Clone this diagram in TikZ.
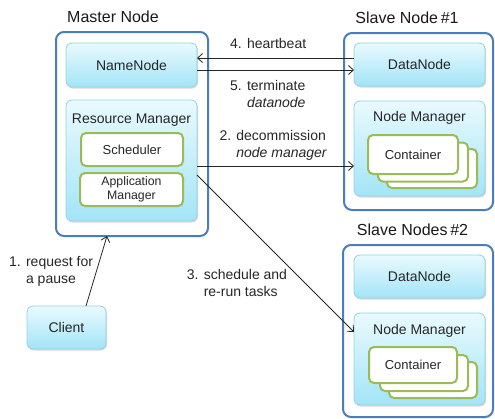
\documentclass[tikz,border=0pt]{standalone}
\usepackage{fontspec}
\setmainfont{Liberation Sans}
\usetikzlibrary{shadows,arrows.meta}
\definecolor{hostblue}{HTML}{4A7EBB}
\definecolor{cyanedge}{HTML}{93D3E6}
\definecolor{cyantop}{HTML}{E9FAFE}
\definecolor{cyanbot}{HTML}{A3E4F7}
\definecolor{leafgreen}{HTML}{9BBB59}
\definecolor{ink}{HTML}{262626}
\begin{document}
\begin{tikzpicture}[x=1pt,y=-1pt,
  host/.style={draw=hostblue, line width=2pt, rounded corners=8pt, fill=white,
    inner sep=0pt, outer sep=0pt},
  comp/.style={draw=cyanedge, line width=0.8pt, rounded corners=6pt,
    top color=cyantop, bottom color=cyanbot,
    drop shadow={shadow xshift=1pt, shadow yshift=-1.5pt, opacity=0.3},
    inner sep=0pt, outer sep=0pt, text=ink, font=\fontsize{14}{16.6}\selectfont},
  sub/.style={draw=leafgreen, line width=2pt, rounded corners=5pt, fill=white,
    inner sep=0pt, outer sep=0pt, text=ink, align=center},
  title/.style={anchor=base, inner sep=0pt, text=black!90,
    font=\fontsize{16}{19}\selectfont},
  caption/.style={anchor=base, inner sep=0pt, text=ink,
    font=\fontsize{14}{16.6}\selectfont},
  % multi-line notes: the base anchor sits on the last line
  note/.style={anchor=base west, align=left, inner sep=0pt, text=ink,
    font=\fontsize{14}{16.6}\selectfont},
  msg/.style={draw=black!85, line width=0.8pt,
    -{Straight Barb[length=5pt,width=9pt]}},
]
\useasboundingbox (0,0) rectangle (495,418);

% ---------- master node ----------
\node[title] (tmaster) at (113,22.5) {Master Node};
\node[host, minimum width=152pt, minimum height=204pt] (master) at (132,134) {};
\node[comp, minimum width=131pt, minimum height=44pt] (nn) at (131.5,65) {NameNode};
\node[comp, minimum width=131pt, minimum height=121pt] (rm) at (131.5,160.5) {};
\node[caption] (trm) at (131.5,123.3) {Resource Manager};
\node[sub, minimum width=102pt, minimum height=33pt, font=\fontsize{13}{15}\selectfont]
  (sched) at (132,149.5) {Scheduler};
\node[sub, minimum width=103pt, minimum height=33pt, font=\fontsize{12.3}{14}\selectfont]
  (appm) at (131.5,189.5) {Application\\Manager};

% ---------- client ----------
\node[comp, minimum width=79pt, minimum height=43pt] (client) at (66.5,327.5) {Client};

% ---------- slave node #1 ----------
\node[title] (ts1) at (407,23) {Slave Node\,\#1};
\node[host, minimum width=149pt, minimum height=177pt] (s1) at (418.5,121.5) {};
\node[comp, minimum width=131pt, minimum height=43pt] (dn1) at (419.5,64.5) {DataNode};
\node[comp, minimum width=131pt, minimum height=95pt] (nm1) at (419.5,148.5) {};
\node[caption] (tnm1) at (419.5,121.7) {Node Manager};
\node[sub, minimum width=90pt, minimum height=39pt] (c1c) at (432,168.5) {};
\node[sub, minimum width=90pt, minimum height=39pt] (c1b) at (423,162) {};
\node[sub, minimum width=90pt, minimum height=39pt, font=\fontsize{13}{15}\selectfont]
  (c1a) at (413,154.5) {Container};

% ---------- slave nodes #2 ----------
\node[title] (ts2) at (412.5,235) {Slave Nodes\,\#2};
\node[host, minimum width=150pt, minimum height=172pt] (s2) at (418,331) {};
\node[comp, minimum width=131pt, minimum height=43pt] (dn2) at (419.5,276.5) {DataNode};
\node[comp, minimum width=131pt, minimum height=92pt] (nm2) at (419.5,359) {};
\node[caption] (tnm2) at (419.5,334) {Node Manager};
\node[sub, minimum width=88pt, minimum height=36pt] (c2c) at (433,380) {};
\node[sub, minimum width=88pt, minimum height=36pt] (c2b) at (424,373) {};
\node[sub, minimum width=88pt, minimum height=36pt, font=\fontsize{13}{15}\selectfont]
  (c2a) at (413,365) {Container};

% ---------- messages ----------
\draw[msg] ([xshift=19.5pt]client.north) -- ([xshift=-25pt]master.south);
\draw[msg] ([yshift=6.5pt]dn1.west) -- ([yshift=6.5pt]dn1.west -| nn.east);
\draw[msg] ([yshift=-5pt]nn.east) -- ([yshift=-5pt]nn.east -| dn1.west);
\draw[msg] ([yshift=-5.5pt]rm.east) -- ([yshift=-5.5pt]rm.east -| nm1.west);
\draw[msg] ([yshift=-14.5pt]rm.east) -- ([yshift=27pt]nm2.west);

\node[note] (l1) at (9,283.3) {1. request for\\\phantom{1. }a pause};
\node[note] (l2) at (219.3,157.3) {2. decommission\\\phantom{2. }\textit{node manager}};
\node[note] (l3) at (186.7,296) {3. schedule and\\\phantom{3. }re-run tasks};
\node[note] (l4) at (230,48.3) {4. heartbeat};
\node[note] (l5) at (230,107.3) {5. terminate\\\phantom{5. }\textit{datanode}};
\end{tikzpicture}
\end{document}
